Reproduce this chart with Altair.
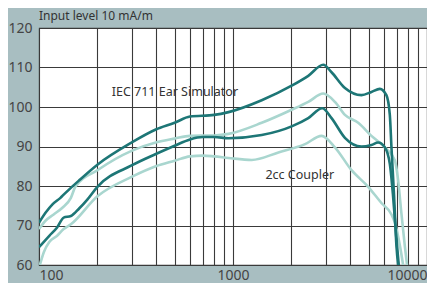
import altair as alt
import pandas as pd

# IEC 711 Ear Simulator - upper (dark)
iec_dark_f = [100, 108, 117, 129, 134, 145, 160, 200, 300, 400, 500, 600, 800, 948, 1406, 2006, 2444, 2920, 3221, 3775, 4594, 5172, 5712, 6176, 6432, 6558, 6767, 6955, 7097]
iec_dark_db = [70.7, 73.2, 75.3, 77.0, 77.8, 79.4, 81.3, 85.4, 91.0, 94.3, 96.0, 97.6, 98.0, 98.7, 101.7, 105.4, 107.9, 110.7, 108.8, 104.8, 103.0, 103.8, 104.6, 103.0, 98.0, 89.8, 77.4, 65.0, 60.0]

# IEC 711 Ear Simulator - upper (light)
iec_light_f = [100, 108, 119, 132, 146, 154, 200, 300, 400, 500, 600, 800, 948, 1406, 2006, 2444, 2920, 3352, 3775, 4419, 5172, 6060, 6823, 7097, 7376, 7678, 7890]
iec_light_db = [69.1, 71.2, 72.8, 74.5, 77.0, 79.8, 84.0, 88.9, 91.0, 92.0, 92.7, 92.8, 93.2, 96.0, 99.3, 101.3, 103.4, 101.3, 98.0, 96.0, 92.7, 89.8, 86.5, 81.5, 73.2, 65.0, 60.0]

# 2cc Coupler - lower (dark)
cpl_dark_f = [100, 113, 124, 134, 146, 161, 177, 200, 300, 400, 500, 600, 700, 800, 948, 1406, 2006, 2444, 2885, 3221, 3775, 4594, 5172, 5598, 6060, 6432, 6687, 6955, 7153]
cpl_dark_db = [64.5, 67.4, 69.5, 72.0, 72.4, 74.3, 76.5, 79.8, 85.2, 88.1, 90.2, 91.8, 92.4, 92.4, 92.1, 92.9, 95.1, 97.2, 99.7, 97.2, 92.2, 90.0, 90.4, 91.0, 89.8, 85.6, 77.4, 66.6, 60.0]

# 2cc Coupler - lower (light)
cpl_light_f = [101, 106, 113, 124, 134, 146, 200, 300, 400, 500, 600, 700, 800, 948, 1250, 1714, 2351, 2862, 3352, 4083, 4975, 5821, 6558, 6823, 7245, 7530]
cpl_light_db = [60.0, 63.3, 65.8, 67.4, 69.1, 70.3, 77.4, 82.3, 85.0, 86.4, 87.5, 87.7, 87.5, 87.1, 86.6, 88.5, 90.6, 92.7, 89.8, 84.0, 79.8, 75.7, 72.8, 70.7, 65.0, 60.0]

series_names = ["light1", "light2", "dark1", "dark2"]
series_colors = ["#a9d6cf", "#a9d6cf", "#1d7676", "#1d7676"]

x_grid = [100, 200, 300, 400, 500, 600, 700, 800, 900, 1000, 2000, 3000, 4000, 5000, 6000, 7000, 8000, 9000, 10000]
y_ticks = [60, 70, 80, 90, 100, 110, 120]

labels_text = ["IEC 711 Ear Simulator", "2cc Coupler"]
labels_f = [237, 1469]
labels_db = [103.9, 82.8]

rows = []
for name, fs, ds in [("light1", iec_light_f, iec_light_db), ("light2", cpl_light_f, cpl_light_db),
                     ("dark1", iec_dark_f, iec_dark_db), ("dark2", cpl_dark_f, cpl_dark_db)]:
    for i, (f, d) in enumerate(zip(fs, ds)):
        rows.append({"series": name, "f": f, "db": d, "i": i})
df = pd.DataFrame(rows)

FONT = "Noto Sans"

xscale = alt.Scale(type="log", domain=[100, 10000], nice=False)
yscale = alt.Scale(domain=[60, 120], nice=False)

x_axis = alt.Axis(
    values=x_grid, title=None, format="d", tickSize=0, labelPadding=3,
    labelExpr="(datum.value == 100 || datum.value == 1000 || datum.value == 10000) ? datum.label : ''",
    gridColor="#3a3a3a", gridWidth=1.1, gridOpacity=1, domain=False,
    labelFontSize=14, labelColor="#444", labelFont=FONT, labelOverlap=False,
)
y_axis = alt.Axis(
    values=y_ticks, title=None, tickSize=0, labelPadding=7,
    gridColor="#3a3a3a", gridWidth=1.1, gridOpacity=1, domain=False,
    labelFontSize=14, labelColor="#444", labelFont=FONT, labelOverlap=False,
)

lines = alt.Chart(df).mark_line(strokeWidth=2.6, interpolate="monotone", clip=True).encode(
    x=alt.X("f:Q", scale=xscale, axis=x_axis),
    y=alt.Y("db:Q", scale=yscale, axis=y_axis),
    color=alt.Color("series:N", scale=alt.Scale(domain=series_names, range=series_colors), legend=None),
    detail="series:N",
    order="i:Q",
)

ann = alt.Chart(pd.DataFrame({"t": labels_text, "f": labels_f, "db": labels_db})).mark_text(
    align="left", baseline="middle", fontSize=12.5, font=FONT, color="#333"
).encode(x=alt.X("f:Q", scale=xscale, axis=x_axis), y=alt.Y("db:Q", scale=yscale, axis=y_axis), text="t:N")

title = alt.Chart(pd.DataFrame({"t": ["Input level 10 mA/m"]})).mark_text(
    align="left", baseline="alphabetic", fontSize=12, font=FONT, color="#333"
).encode(x=alt.value(0), y=alt.value(-8), text="t:N")

chart = alt.layer(lines, ann, title).properties(
    width=388, height=237,
    autosize=alt.AutoSizeParams(type="none"),
    padding={"left": 31, "top": 20, "right": 0, "bottom": 18},
    background="#a8bec1",
).configure_view(fill="white", stroke="#3a3a3a", strokeWidth=1.1)

chart.save("out.html", embed_options={"renderer": "svg", "actions": False})
